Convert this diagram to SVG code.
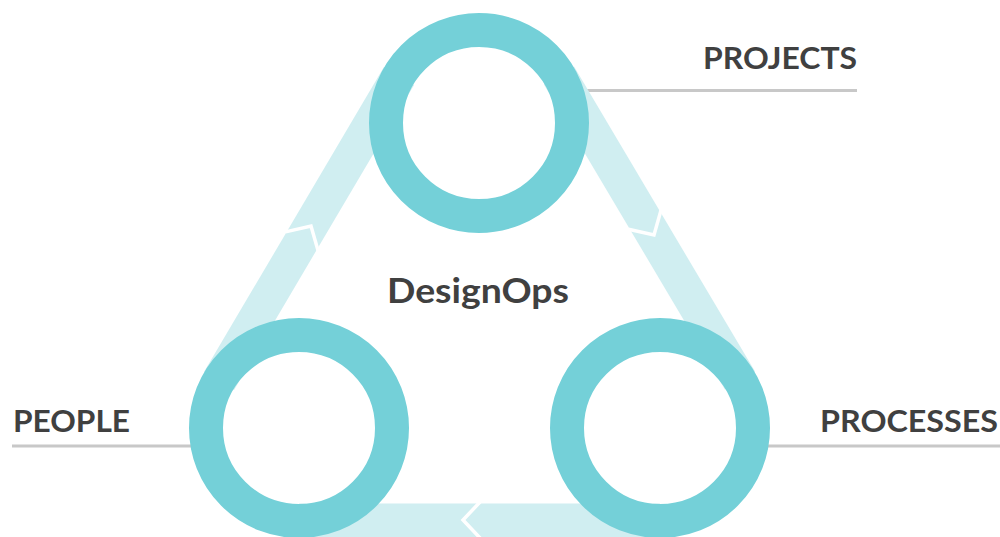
<svg xmlns="http://www.w3.org/2000/svg" width="1000" height="537" viewBox="0 0 1000 537">
  <defs>
    <style>
      .band { stroke: #D0EEF1; stroke-width: 35; fill: none; stroke-linecap: butt; }
      .chev { stroke: #FFFFFF; stroke-width: 3.5; fill: none; stroke-linejoin: miter; }
      .ring { stroke: #74D0D8; stroke-width: 34; fill: none; }
      .rule { stroke: #C8C8C8; stroke-width: 3; }
      .label { font-family: Lato, "Liberation Sans", sans-serif; font-weight: 700; fill: #404040; }
    </style>
    <path id="chevron" d="M -18,-19 L 0,0 L -18,19"/>
  </defs>
  <rect width="1000" height="537" fill="#FFFFFF"/>

  <g id="rules">
    <line class="rule" x1="560" y1="90.5" x2="857" y2="90.5"/>
    <line class="rule" x1="12" y1="446" x2="220" y2="446"/>
    <line class="rule" x1="740" y1="446" x2="1000" y2="446"/>
  </g>

  <g id="connectors">
    <line class="band" x1="219" y1="381" x2="399" y2="76"/>
    <line class="band" x1="559" y1="75.5" x2="740" y2="380.5"/>
    <line class="band" x1="660" y1="521" x2="299" y2="521"/>
    <use href="#chevron" class="chev" transform="translate(311,226) rotate(-59.5)"/>
    <use href="#chevron" class="chev" transform="translate(654,235) rotate(59.3)"/>
    <use href="#chevron" class="chev" transform="translate(463,520) rotate(180)"/>
  </g>

  <g id="node-projects">
    <circle class="ring" cx="479" cy="123" r="93"/>
    <text class="label" x="703" y="69" font-size="31" textLength="154" lengthAdjust="spacingAndGlyphs">PROJECTS</text>
  </g>
  <g id="node-people">
    <circle class="ring" cx="299" cy="428" r="93"/>
    <text class="label" x="13" y="432" font-size="31" textLength="117" lengthAdjust="spacingAndGlyphs">PEOPLE</text>
  </g>
  <g id="node-processes">
    <circle class="ring" cx="660" cy="428" r="93"/>
    <text class="label" x="820" y="432" font-size="31" textLength="178" lengthAdjust="spacingAndGlyphs">PROCESSES</text>
  </g>
  <g id="node-designops">
    <text class="label" x="387" y="303" font-size="35" textLength="182" lengthAdjust="spacingAndGlyphs">DesignOps</text>
  </g>
</svg>
